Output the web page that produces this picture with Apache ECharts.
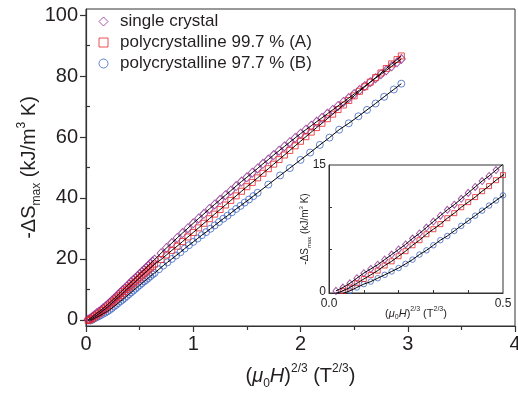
<!DOCTYPE html>
<html><head><meta charset="utf-8">
<script src="https://cdn.jsdelivr.net/npm/echarts@6/dist/echarts.min.js"></script>
<style>html,body{margin:0;padding:0;background:#fff}#c{width:518px;height:394px}</style>
</head><body><div id="c"></div>
<script>
// ---- data (x = (mu0 H)^(2/3) in T^(2/3), y = -dS_max in kJ/m^3 K) ----
const seriesNames = ['single crystal', 'polycrystalline 99.7 % (A)', 'polycrystalline 97.7 % (B)'];
const seriesColors = ['#8f2a90', '#e8232b', '#3f66c4'];

const xLowSA = [0.02,0.04,0.06,0.08,0.10,0.12,0.14,0.16,0.18,0.20,0.22,0.24,0.26,0.28,0.30,0.32,0.34,0.36,0.38,0.40,0.42,0.44,0.46,0.48,0.50,0.52,0.54,0.56,0.58,0.60,0.62,0.64];
const xHighSA = [0.70,0.75,0.80,0.85,0.90,0.95,1.00,1.05,1.10,1.15,1.20,1.25,1.30,1.35,1.40,1.45,1.50,1.55,1.60,1.65,1.70,1.75,1.80,1.85,1.90,1.95,2.00,2.05,2.10,2.15,2.20,2.25,2.30,2.35,2.40,2.45,2.50,2.55,2.60,2.65,2.70,2.75,2.80,2.85,2.90,2.94];

const ySingleLow = [0.1,0.5,1.0,1.6,2.2,2.7,3.2,3.8,4.4,5.0,5.6,6.3,6.9,7.6,8.3,9.0,9.7,10.3,11.0,11.7,12.4,13.1,13.7,14.4,15.1,15.8,16.4,17.1,17.8,18.5,19.2,19.8];
const ySingleHigh = [21.9,23.6,25.2,26.9,28.5,30.1,31.7,33.3,34.8,36.4,37.9,39.4,40.9,42.4,43.9,45.4,46.8,48.3,49.7,51.2,52.6,54.1,55.5,56.9,58.3,59.7,61.1,62.4,63.7,65.0,66.3,67.6,68.9,70.2,71.5,72.8,74.1,75.4,76.7,78.0,79.3,80.6,81.9,83.2,84.5,85.6];

const yPolyALow = [-0.2,0.1,0.5,1.0,1.5,2.0,2.5,3.1,3.6,4.2,4.8,5.5,6.1,6.8,7.4,8.0,8.7,9.3,10.0,10.6,11.2,11.9,12.5,13.2,13.8,14.5,15.1,15.7,16.4,17.0,17.6,18.3];
const yPolyAHigh = [19.8,21.3,22.8,24.2,25.7,27.2,28.7,30.2,31.7,33.2,34.7,36.2,37.7,39.2,40.7,42.2,43.7,45.1,46.6,48.1,49.6,51.1,52.6,54.1,55.6,57.1,58.6,60.1,61.6,63.1,64.5,66.0,67.5,69.0,70.5,72.0,73.5,75.0,76.5,78.0,79.5,81.0,82.5,84.0,85.4,86.6];

const xLowB = [0.04,0.06,0.08,0.10,0.12,0.14,0.16,0.18,0.20,0.22,0.24,0.26,0.28,0.30,0.32,0.34,0.36,0.38,0.40,0.42,0.44,0.46,0.48,0.50,0.52,0.54,0.56,0.58,0.60,0.62,0.64];
const xMidB = [0.68,0.72,0.76,0.80,0.84,0.88,0.92,0.96,1.00,1.04,1.08,1.12,1.16,1.20,1.24,1.28,1.32,1.36,1.40,1.44,1.48,1.52,1.56,1.60];
const xHighB = [1.70,1.81,1.90,2.00,2.09,2.18,2.27,2.36,2.45,2.54,2.62,2.70,2.78,2.87,2.94];
const yPolyBLow = [-0.2,0.1,0.5,0.9,1.2,1.6,2.0,2.4,2.8,3.3,3.8,4.4,4.9,5.5,6.1,6.6,7.2,7.8,8.4,9.0,9.6,10.2,10.8,11.4,12.0,12.6,13.1,13.7,14.3,14.9,15.4];
const yPolyBMid = [16.6,17.8,18.9,20.0,21.1,22.2,23.4,24.5,25.6,26.7,27.8,28.8,29.9,31.0,32.1,33.2,34.2,35.3,36.4,37.4,38.5,39.5,40.6,41.7];
const yPolyBHigh = [44.4,47.4,49.8,52.5,54.9,57.4,59.8,62.4,64.5,66.8,68.9,71.0,73.2,75.6,77.5];

const mainXTicks = [0,1,2,3,4];
const mainYTicks = [0,20,40,60,80,100];
const mainYMinor = [10,30,50,70,90];
const insetXLabels = [0,0.5];
const insetXTicks = [0.1,0.2,0.3,0.4];
const insetYLabels = [0,15];
const insetYTicks = [5,10];

// ---- build ----
const zip = (xs, ys) => xs.map((x, i) => [x, ys[i]]);
const dSingle = zip(xLowSA.concat(xHighSA), ySingleLow.concat(ySingleHigh));
const dPolyA = zip(xLowSA.concat(xHighSA), yPolyALow.concat(yPolyAHigh));
const dPolyB = zip(xLowB.concat(xMidB, xHighB), yPolyBLow.concat(yPolyBMid, yPolyBHigh));
const allData = [dSingle, dPolyA, dPolyB];
const symbols = ['diamond', 'rect', 'circle'];
const mainSizes = [[8, 9], 6, 7];
const insetSizes = [[6, 7], 5, 5.5];

const FONT = 'Liberation Sans, Arial, sans-serif';
const TXT = '#231f20';
const AX = '#333';

function richSet(fs) {
  return {
    p: {fontSize: fs, fontFamily: FONT, color: TXT, lineHeight: Math.round(fs * 1.35)},
    i: {fontSize: fs, fontFamily: FONT, color: TXT, fontStyle: 'italic', lineHeight: Math.round(fs * 1.35)},
    s: {fontSize: Math.round(fs * 0.6), fontFamily: FONT, color: TXT, verticalAlign: 'bottom', lineHeight: Math.round(fs * 0.6)},
    u: {fontSize: Math.round(fs * 0.6), fontFamily: FONT, color: TXT, verticalAlign: 'top', lineHeight: Math.round(fs * 0.6)}
  };
}
const xName = '{p|(}{i|μ}{s|0}{i|H}{p|)}{u|2/3}{p| (T}{u|2/3}{p|)}';
const yName = '{p|-ΔS}{s|max}{p| (kJ/m}{u|3}{p| K)}';

const series = [];
[2, 0, 1].forEach(k => {
  series.push({
    type: 'scatter', name: seriesNames[k], xAxisIndex: 0, yAxisIndex: 0,
    data: allData[k], symbol: symbols[k], symbolSize: mainSizes[k], z: 3,
    itemStyle: {color: 'rgba(255,255,255,0)', borderColor: seriesColors[k], borderWidth: 1},
    emphasis: {disabled: true}
  });
});
[0, 1, 2].forEach(k => {
  series.push({
    type: 'line', xAxisIndex: 0, yAxisIndex: 0, data: allData[k], showSymbol: false, z: 4,
    lineStyle: {color: '#000', width: 1}, emphasis: {disabled: true}, silent: true
  });
});
[2, 0, 1].forEach(k => {
  series.push({
    type: 'scatter', name: seriesNames[k], xAxisIndex: 1, yAxisIndex: 2,
    data: allData[k], symbol: symbols[k], symbolSize: insetSizes[k], z: 13, clip: true,
    itemStyle: {color: 'rgba(255,255,255,0)', borderColor: seriesColors[k], borderWidth: 1},
    emphasis: {disabled: true}
  });
});
[0, 1, 2].forEach(k => {
  series.push({
    type: 'line', xAxisIndex: 1, yAxisIndex: 2, data: allData[k], showSymbol: false, z: 14, clip: true,
    lineStyle: {color: '#000', width: 1}, emphasis: {disabled: true}, silent: true
  });
});

const option = {
  animation: false,
  backgroundColor: '#fff',
  legend: {
    orient: 'vertical', left: 93.5, top: 8, itemWidth: 9, itemHeight: 9, itemGap: 4,
    selectedMode: false,
    textStyle: {fontSize: 17, fontFamily: FONT, color: TXT, lineHeight: 17, padding: [0, 0, 0, 7]},
    data: seriesNames.map((n, k) => ({
      name: n, icon: symbols[k],
      itemStyle: {color: 'rgba(255,255,255,0)', borderColor: seriesColors[k], borderWidth: 1}
    }))
  },
  grid: [
    {left: 86, top: 9, width: 429, height: 317, show: true, borderColor: AX, borderWidth: 1, backgroundColor: 'rgba(0,0,0,0)', outerBoundsMode: 'none', containLabel: false},
    {left: 329, top: 165, width: 174, height: 128, show: true, borderColor: AX, borderWidth: 1, backgroundColor: '#fff', z: 10, outerBoundsMode: 'none', containLabel: false}
  ],
  xAxis: [
    {
      gridIndex: 0, type: 'value', min: 0, max: 4, interval: 1,
      axisLine: {show: true, onZero: false, lineStyle: {color: AX, width: 1.2}},
      axisTick: {show: true, inside: false, length: 6, lineStyle: {color: AX, width: 1.2}},
      minorTick: {show: true, splitNumber: 2, length: 4, lineStyle: {color: AX, width: 1.2}},
      splitLine: {show: false},
      axisLabel: {fontSize: 20, fontFamily: FONT, color: TXT, margin: 8},
      name: xName, nameLocation: 'middle', nameGap: 37, nameMoveOverlap: false,
      nameTextStyle: {rich: richSet(20)}
    },
    {
      gridIndex: 1, type: 'value', min: 0, max: 0.5, z: 11,
      axisLine: {show: true, onZero: false, lineStyle: {color: AX, width: 1}},
      axisTick: {show: true, inside: true, length: 3, customValues: insetXTicks, lineStyle: {color: AX}},
      splitLine: {show: false},
      axisLabel: {fontSize: 12, fontFamily: FONT, color: TXT, margin: 5, customValues: insetXLabels, formatter: v => v.toFixed(1)},
      name: xName, nameLocation: 'middle', nameGap: 13, nameMoveOverlap: false,
      nameTextStyle: {rich: richSet(11)}
    }
  ],
  yAxis: [
    {
      gridIndex: 0, type: 'value', min: -2, max: 102,
      axisLine: {show: true, onZero: false, lineStyle: {color: AX, width: 1.2}},
      axisTick: {show: true, inside: false, length: 6, customValues: mainYTicks, lineStyle: {color: AX, width: 1.2}},
      splitLine: {show: false},
      axisLabel: {fontSize: 20, fontFamily: FONT, color: TXT, margin: 8, customValues: mainYTicks},
      name: yName, nameLocation: 'middle', nameGap: 43, nameRotate: 90, nameMoveOverlap: false,
      nameTextStyle: {rich: richSet(20)}
    },
    {
      gridIndex: 0, type: 'value', min: -2, max: 102,
      axisLine: {show: false},
      axisTick: {show: true, inside: false, length: 4, customValues: mainYMinor, lineStyle: {color: AX, width: 1.2}},
      splitLine: {show: false},
      axisLabel: {show: false}
    },
    {
      gridIndex: 1, type: 'value', min: -0.15, max: 15, z: 11,
      axisLine: {show: true, onZero: false, lineStyle: {color: AX, width: 1}},
      axisTick: {show: true, inside: true, length: 3, customValues: insetYTicks, lineStyle: {color: AX}},
      splitLine: {show: false},
      axisLabel: {fontSize: 12, fontFamily: FONT, color: TXT, margin: 3, customValues: insetYLabels},
      name: yName, nameLocation: 'middle', nameGap: 17, nameRotate: 90, nameMoveOverlap: false,
      nameTextStyle: {rich: richSet(10)}
    }
  ],
  series: series
};
const chart = echarts.init(document.getElementById('c'), null, {renderer: 'canvas'});
chart.setOption(option);
</script>
</body></html>
